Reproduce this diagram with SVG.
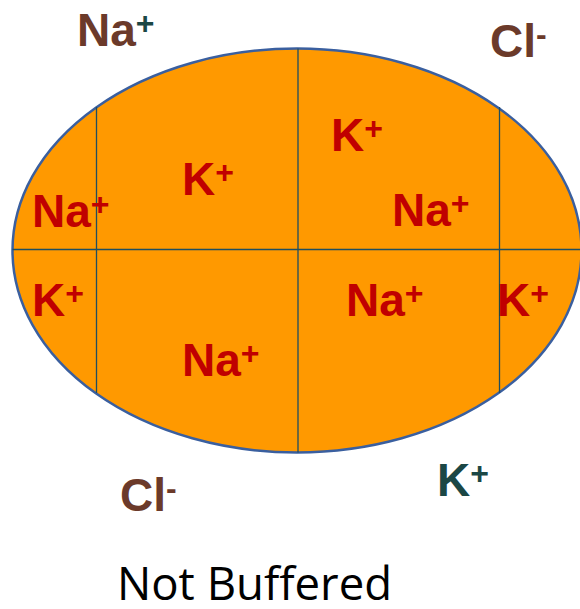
<svg xmlns="http://www.w3.org/2000/svg" width="580" height="609" viewBox="0 0 580 609">
<style>
.ion{font-family:"Liberation Sans",Arial,sans-serif;font-weight:bold;font-size:46px}
.in{fill:#c00000}
.br{fill:#6b3a2a}
.tl{fill:#1b4745}
.sup{font-size:32px}
.div{stroke:#1f4e60;stroke-width:1.3;fill:none}
.cap{font-family:"Open Sans","DejaVu Sans",sans-serif;font-size:45px;fill:#000}
</style>
<rect width="580" height="609" fill="#fff"/>
<g id="cell">
<ellipse cx="297" cy="250.5" rx="284.5" ry="202" fill="#ff9900" stroke="#3a5f9f" stroke-width="2.5"/>
</g>
<g id="dividers">
<line class="div" x1="96.5" y1="107" x2="96.5" y2="393"/>
<line class="div" x1="298" y1="48.5" x2="298" y2="452.5"/>
<line class="div" x1="499.5" y1="107" x2="499.5" y2="393"/>
<line class="div" x1="12.5" y1="249.5" x2="581" y2="249.5"/>
</g>
<g id="inside">
<text class="ion in" x="182" y="195">K<tspan class="sup" dy="-12">+</tspan></text>
<text class="ion in" x="32" y="227">Na<tspan class="sup" dy="-12">+</tspan></text>
<text class="ion in" x="331" y="151">K<tspan class="sup" dy="-12">+</tspan></text>
<text class="ion in" x="392" y="226">Na<tspan class="sup" dy="-12">+</tspan></text>
<text class="ion in" x="32" y="316">K<tspan class="sup" dy="-12">+</tspan></text>
<text class="ion in" x="346" y="316">Na<tspan class="sup" dy="-12">+</tspan></text>
<text class="ion in" x="497" y="316">K<tspan class="sup" dy="-12">+</tspan></text>
<text class="ion in" x="182" y="376">Na<tspan class="sup" dy="-12">+</tspan></text>
</g>
<g id="outside">
<text class="ion br" x="77" y="46">Na<tspan class="sup tl" dy="-12">+</tspan></text>
<text class="ion br" x="490" y="57">Cl<tspan class="sup" dy="-12">-</tspan></text>
<text class="ion br" x="120" y="511">Cl<tspan class="sup" dy="-12">-</tspan></text>
<text class="ion tl" x="437" y="496">K<tspan class="sup" dy="-12">+</tspan></text>
</g>
<g id="caption">
<text class="cap" x="117" y="600" textLength="275" lengthAdjust="spacingAndGlyphs">Not Buffered</text>
</g>
</svg>
